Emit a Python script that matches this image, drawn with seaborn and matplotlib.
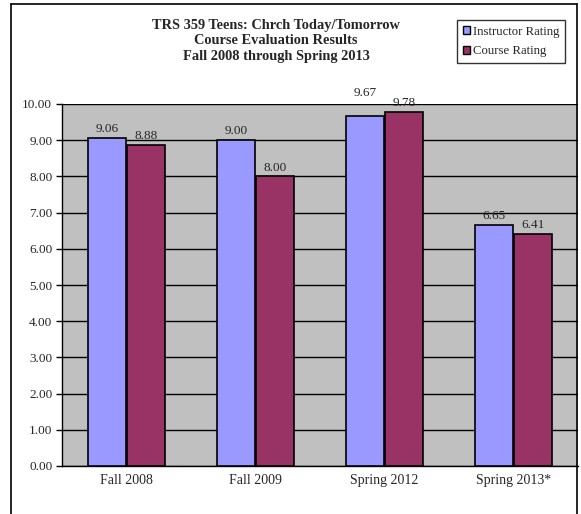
import pandas as pd
import matplotlib.pyplot as plt
import seaborn as sns
from matplotlib.patches import Patch
from matplotlib.lines import Line2D

terms = ["Fall 2008", "Fall 2009", "Spring 2012", "Spring 2013*"]
instructor = [9.06, 9.00, 9.67, 6.65]
course = [8.88, 8.00, 9.78, 6.41]
series = ["Instructor Rating", "Course Rating"]
colors = ["#9999FF", "#993366"]

df = pd.DataFrame({
    "Term": terms * 2,
    "Rating": [series[0]] * 4 + [series[1]] * 4,
    "Score": instructor + course,
})

sns.set_style("white")
plt.rcParams["font.family"] = ["Liberation Serif", "DejaVu Serif"]

fig = plt.figure(figsize=(5.81, 5.14), dpi=100)
ax = fig.add_axes([62 / 581, 1 - 466 / 514, (578 - 62) / 581, (466 - 104) / 514])
ax.set_facecolor("#C0C0C0")

sns.barplot(data=df, x="Term", y="Score", hue="Rating", palette=colors,
            saturation=1, width=0.6, gap=0.03, edgecolor="black", linewidth=1.2,
            legend=False, ax=ax, zorder=3)

labels = []
for cont in ax.containers:
    labels.append(ax.bar_label(cont, fmt="%.2f", padding=2, fontsize=9.5, zorder=4))
# the 9.67 label sits higher in the original, clear of the 10.00 line
labels[0][2].xyann = (0, 12)

ax.set_ylim(0, 10)
ax.set_xlim(-0.5, 3.5)
ax.set_yticks(range(0, 11))
ax.set_yticklabels([f"{v:.2f}" for v in range(0, 11)], fontsize=9.5)
ax.grid(axis="y", color="black", linewidth=1, zorder=0)
ax.set_axisbelow(True)
ax.set_xlabel("")
ax.set_ylabel("")
ax.tick_params(axis="x", length=0, labelsize=10, pad=6)
ax.set_xticks([-0.5, 0.5, 1.5, 2.5, 3.5], minor=True)
ax.tick_params(axis="x", which="minor", length=4, width=1, color="black", direction="out")
ax.tick_params(axis="y", length=4, width=1, color="black", direction="out", left=True, pad=3)
for s in ["top", "right"]:
    ax.spines[s].set_visible(False)
for s in ["left", "bottom"]:
    ax.spines[s].set_color("black")
    ax.spines[s].set_linewidth(1)

# outer chart border
x0, x1, yt = 11 / 581, 577 / 581, 1 - 4 / 514
for xs, ys in [([x0, x0], [0, yt]), ([x0, x1], [yt, yt]), ([x1, x1], [yt, 0])]:
    fig.add_artist(Line2D(xs, ys, color="black", linewidth=1.2, transform=fig.transFigure))

fig.text(276 / 581, 1 - 41 / 514,
         "TRS 359 Teens: Chrch Today/Tomorrow\nCourse Evaluation Results\nFall 2008 through Spring 2013",
         ha="center", va="center", fontsize=10.4, fontweight="bold", linespacing=1.28)

handles = [Patch(facecolor=c, edgecolor="black", label=l) for c, l in zip(colors, series)]
leg = fig.legend(handles=handles, loc="upper left", bbox_to_anchor=(457 / 581, 1 - 20 / 514),
                 fontsize=9.2, frameon=True, fancybox=False, edgecolor="black",
                 handlelength=0.6, handleheight=0.6, handletextpad=0.2,
                 borderpad=0.45, labelspacing=0.6, borderaxespad=0)
leg.get_frame().set_linewidth(1)

fig.savefig("out.png", dpi=100)
